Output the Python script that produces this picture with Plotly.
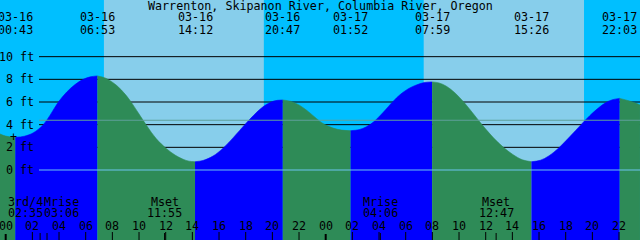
import plotly.graph_objects as go

# ---------------- data ----------------
title = "Warrenton, Skipanon River, Columbia River, Oregon"

# tide extremes (labels at top)
event_dates = ["03-16", "03-16", "03-16", "03-16", "03-17", "03-17", "03-17", "03-17"]
event_times = ["00:43", "06:53", "14:12", "20:47", "01:52", "07:59", "15:26", "22:03"]

# tide curve (hours after 03-16 00:00, feet)
curve_hours = [-0.43, 0.0, 0.72,
               1.4, 2.07, 2.82, 3.32, 3.95, 4.58, 5.2, 5.82, 6.35, 6.88,
               7.5, 8.33, 9.0, 9.45, 10.0, 10.58, 11.3, 12.08, 12.7, 13.3, 13.75, 14.2,
               14.8, 15.55, 16.3, 17.1, 17.93, 18.6, 19.3, 20.1, 20.78,
               21.4, 22.05, 22.7, 23.3, 23.8, 24.55, 25.2, 25.87,
               26.5, 27.05, 27.6, 28.3, 29.05, 29.55, 30.2, 30.8, 31.4, 31.98,
               32.5, 33.02, 33.7, 34.4, 35.1, 35.78, 36.6, 37.33, 38.03, 38.75, 39.43,
               40.1, 40.73, 41.5, 42.3, 43.15, 43.8, 44.47, 45.02, 45.5, 46.05,
               46.8, 47.57]
curve_heights = [3.18, 2.99, 2.88,
                 2.98, 3.28, 4.0, 4.82, 6.0, 6.88, 7.54, 8.0, 8.22, 8.3,
                 8.1, 7.45, 6.63, 5.92, 4.94, 3.9, 2.75, 1.86, 1.32, 0.95, 0.78, 0.73,
                 0.84, 1.23, 1.92, 2.9, 4.0, 4.83, 5.58, 6.08, 6.18,
                 6.05, 5.7, 5.15, 4.55, 4.1, 3.7, 3.52, 3.47,
                 3.56, 3.81, 4.25, 5.07, 6.05, 6.62, 7.17, 7.5, 7.72, 7.77,
                 7.68, 7.41, 6.8, 5.93, 4.92, 3.92, 2.82, 2.0, 1.37, 0.9, 0.73,
                 0.86, 1.24, 1.97, 2.93, 4.0, 4.79, 5.49, 5.95, 6.2, 6.32,
                 6.08, 5.74]

height_ticks = [0, 2, 4, 6, 8, 10]
msl_height = 4.39

sunrise_times = ["03-16 07:22", "03-17 07:21"]
sunset_times = ["03-16 19:22", "03-17 19:23"]

moon_labels = ["3rd/4", "Mrise", "Mset", "Mrise", "Mset"]
moon_times = ["03-16 02:35", "03-16 03:06", "03-16 11:55", "03-17 04:06", "03-17 12:47"]

hour_ticks = list(range(0, 49, 2))
hour_tick_labels = ["%02d" % (h % 24) for h in hour_ticks]

# ---------------- styles ----------------
NIGHT = "#00BFFF"
DAY = "#87CEEB"
RISE = "#0000FF"
FALL = "#2E8B57"
FONT = dict(family="DejaVu Sans Mono", size=11.7, color="black")
X_RANGE = [-0.4275, 47.5725]
Y_RANGE = [-6.176, 15.0]
moon_xshift = [-15, 14, 0, 0, 0]


def to_hours(date, hm):
    day = int(date.split("-")[1]) - 16
    h, m = hm.split(":")
    return day * 24 + int(h) + int(m) / 60.0


def stamp_hours(s):
    d, t = s.split(" ")
    return to_hours(d, t)


event_hours = [to_hours(d, t) for d, t in zip(event_dates, event_times)]

fig = go.Figure()

# ---- background day / night ----
sr = [stamp_hours(s) for s in sunrise_times]
ss = [stamp_hours(s) for s in sunset_times]
edges = [X_RANGE[0]]
for a, b in zip(sr, ss):
    edges += [a, b]
edges.append(X_RANGE[1])
for i in range(len(edges) - 1):
    fig.add_shape(type="rect", xref="x", yref="paper", x0=edges[i], x1=edges[i + 1],
                  y0=0, y1=1, fillcolor=NIGHT if i % 2 == 0 else DAY,
                  line=dict(width=0), layer="below")

# ---- black height lines (behind water) ----
for h in height_ticks:
    if h == 0:
        continue
    fig.add_shape(type="line", xref="paper", yref="y", x0=39 / 640, x1=1, y0=h, y1=h,
                  line=dict(color="black", width=1), layer="below")

# ---- water, split at tide extremes ----
ext_idx = []
for eh in event_hours:
    ext_idx.append(min(range(len(curve_hours)), key=lambda i: abs(curve_hours[i] - eh)))
splits = [0] + ext_idx + [len(curve_hours) - 1]
for a, b in zip(splits[:-1], splits[1:]):
    if b <= a:
        continue
    xs = curve_hours[a:b + 1]
    ys = curve_heights[a:b + 1]
    col = RISE if ys[-1] > ys[0] else FALL
    fig.add_trace(go.Scatter(x=[xs[0], xs[-1]], y=[Y_RANGE[0] - 1] * 2, mode="lines",
                             line=dict(width=0, color=col), hoverinfo="skip",
                             showlegend=False))
    fig.add_trace(go.Scatter(x=xs, y=ys, mode="lines", fill="tonexty", fillcolor=col,
                             line=dict(color=col, width=0.6, shape="spline", smoothing=1.0),
                             hoverinfo="skip", showlegend=False))

# ---- datum and MSL lines (above water) ----
fig.add_shape(type="line", xref="paper", yref="y", x0=39 / 640, x1=1, y0=0, y1=0,
              line=dict(color="#6cc4f0", width=1), layer="above")
fig.add_shape(type="line", xref="paper", yref="y", x0=39 / 640, x1=1,
              y0=msl_height, y1=msl_height,
              line=dict(color="#5FA09A", width=1), layer="above")

annotations = []
# title
annotations.append(dict(text=title, xref="paper", yref="paper", x=0.5, y=1 - 6 / 240,
                        showarrow=False, font=FONT, yanchor="middle"))
# tide extreme labels
for eh, d, t in zip(event_hours, event_dates, event_times):
    annotations.append(dict(text=d, x=eh, xref="x", yref="paper", y=1 - 17 / 240,
                            showarrow=False, font=FONT, yanchor="middle"))
    annotations.append(dict(text=t, x=eh, xref="x", yref="paper", y=1 - 30 / 240,
                            showarrow=False, font=FONT, yanchor="middle"))
# height labels
for h in height_ticks:
    annotations.append(dict(text="%d ft" % h, xref="paper", x=36 / 640, xanchor="right",
                            y=h, yref="y", yanchor="middle", showarrow=False, font=FONT))
# marker
annotations.append(dict(text="+", x=0.6, y=2.91, xref="x", yref="y", showarrow=False,
                        font=FONT, yanchor="middle"))
# moon labels
for lab, tm, xs in zip(moon_labels, moon_times, moon_xshift):
    mh = stamp_hours(tm)
    annotations.append(dict(text=lab, x=mh, xref="x", yref="paper", y=1 - 201.7 / 240,
                            xshift=xs, showarrow=False, font=FONT, yanchor="middle"))
    annotations.append(dict(text=tm.split(" ")[1], x=mh, xref="x", yref="paper",
                            y=1 - 213.3 / 240, xshift=xs, showarrow=False, font=FONT,
                            yanchor="middle"))
    fig.add_shape(type="line", xref="x", yref="paper", x0=mh, x1=mh, y0=0, y1=7 / 240,
                  line=dict(color="black", width=1), layer="above")
# hour ticks
for h, lab in zip(hour_ticks, hour_tick_labels):
    annotations.append(dict(text=lab, x=h, xref="x", yref="paper", y=1 - 225.7 / 240,
                            showarrow=False, font=FONT, yanchor="middle"))
    w = 2 if h % 24 == 0 else 1
    fig.add_shape(type="line", xref="x", yref="paper", x0=h, x1=h, y0=0,
                  y1=(8 if h % 24 else 6) / 240,
                  line=dict(color="black", width=w), layer="above")

fig.update_layout(
    width=640, height=240, margin=dict(l=0, r=0, t=0, b=0),
    paper_bgcolor=NIGHT, plot_bgcolor=NIGHT,
    xaxis=dict(range=X_RANGE, visible=False, fixedrange=True),
    yaxis=dict(range=Y_RANGE, visible=False, fixedrange=True),
    annotations=annotations, showlegend=False,
)

fig.write_html("out.html")
